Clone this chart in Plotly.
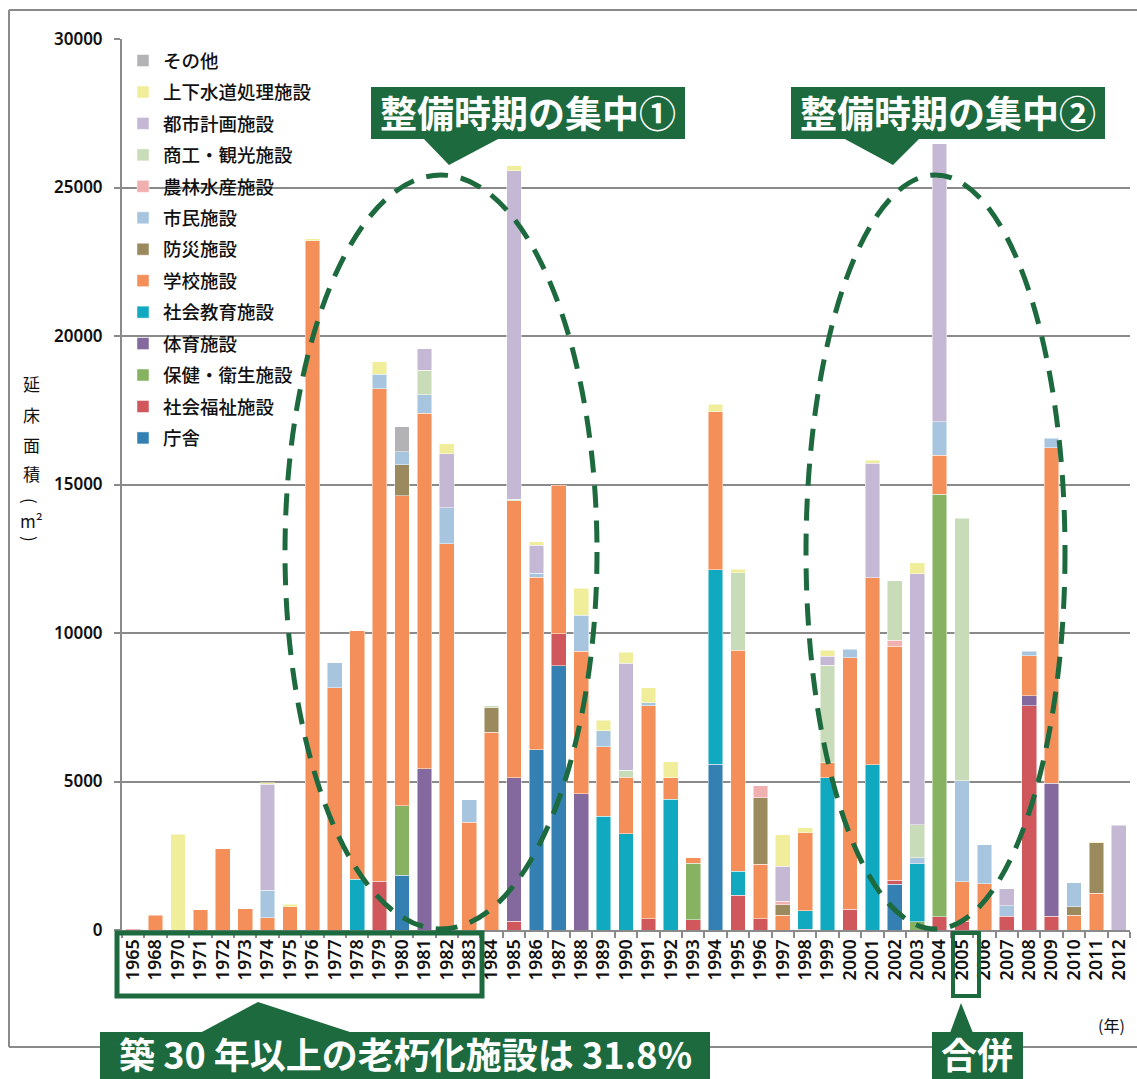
import plotly.graph_objects as go

# ---- categories (construction year) ----
years = ["1965", "1968"] + [str(y) for y in range(1970, 2013)]

# ---- floor area by facility type (m2), one value per year above ----
chosha = [0, 0, 0, 0, 0, 0, 0, 0, 0, 0,
          0, 0, 1840, 0, 0, 0, 0, 0, 6070, 8900,
          0, 0, 0, 0, 0, 0, 5580, 0, 0, 0,
          0, 0, 0, 0, 1540, 0, 0, 0, 0, 0,
          0, 0, 0, 0, 0]
fukushi = [0, 0, 0, 0, 0, 0, 0, 0, 0, 0,
           0, 1650, 0, 0, 0, 0, 0, 300, 0, 1080,
           0, 0, 0, 380, 0, 350, 0, 1170, 380, 0,
           30, 0, 700, 0, 140, 0, 450, 300, 0, 460,
           7550, 460, 0, 0, 0]
hoken = [0, 0, 0, 0, 0, 0, 0, 0, 0, 0,
         0, 0, 2350, 0, 0, 0, 0, 0, 0, 0,
         0, 0, 0, 0, 0, 1890, 0, 0, 0, 0,
         0, 0, 0, 0, 0, 280, 14220, 0, 0, 0,
         0, 0, 0, 0, 0]
taiiku = [0, 0, 0, 0, 0, 0, 0, 0, 0, 0,
          0, 0, 0, 5430, 0, 0, 0, 4830, 0, 0,
          4590, 0, 0, 0, 0, 0, 0, 0, 0, 0,
          0, 0, 0, 0, 0, 0, 0, 0, 0, 0,
          340, 4480, 0, 0, 0]
kyoiku = [0, 0, 0, 0, 0, 0, 0, 0, 0, 0,
          1710, 0, 0, 0, 0, 0, 0, 0, 0, 0,
          0, 3830, 3240, 0, 4400, 0, 6550, 810, 0, 0,
          620, 5130, 0, 5570, 0, 1950, 0, 0, 0, 0,
          0, 0, 0, 0, 0]
gakko = [0, 500, 0, 690, 2730, 710, 420, 790, 23200, 8160,
         8370, 16580, 10430, 11970, 13000, 3630, 6660, 9330, 5800, 5000,
         4800, 2340, 1910, 7170, 720, 200, 5320, 7440, 1840, 490,
         2630, 500, 8470, 6290, 7880, 0, 1320, 1330, 1560, 0,
         1340, 11300, 490, 1240, 0]
bousai = [0, 0, 0, 0, 0, 0, 0, 0, 0, 0,
          0, 0, 1040, 0, 0, 0, 830, 0, 0, 0,
          0, 0, 0, 0, 0, 0, 0, 0, 2230, 360,
          0, 0, 0, 0, 0, 0, 0, 0, 0, 0,
          0, 0, 290, 1700, 0]
shimin = [0, 0, 0, 0, 0, 0, 920, 0, 0, 840,
          0, 490, 450, 630, 1220, 750, 0, 0, 140, 0,
          1210, 540, 0, 100, 0, 0, 0, 0, 0, 0,
          0, 0, 290, 0, 0, 200, 1120, 3390, 1310, 360,
          160, 310, 810, 0, 0]
nourin = [40, 0, 0, 0, 0, 0, 0, 0, 0, 0,
          0, 0, 0, 0, 0, 0, 0, 0, 0, 0,
          0, 0, 0, 0, 0, 0, 0, 0, 400, 110,
          0, 0, 0, 0, 200, 0, 0, 0, 0, 0,
          0, 0, 0, 0, 0]
shoko = [0, 0, 0, 0, 0, 0, 0, 0, 0, 0,
         0, 0, 0, 810, 0, 0, 60, 50, 0, 0,
         0, 0, 230, 0, 0, 0, 0, 2610, 0, 0,
         0, 3290, 0, 0, 2000, 1120, 0, 8850, 0, 0,
         0, 0, 0, 0, 0]
toshi = [0, 0, 0, 0, 0, 0, 3570, 0, 0, 0,
         0, 0, 0, 730, 1810, 0, 0, 11060, 940, 0,
         0, 0, 3610, 0, 0, 0, 0, 0, 0, 1180,
         0, 290, 0, 3860, 0, 8450, 9370, 0, 0, 570,
         0, 0, 0, 0, 3530]
gesui = [0, 0, 3230, 0, 0, 0, 50, 80, 70, 0,
         0, 410, 0, 0, 340, 0, 0, 160, 120, 0,
         900, 360, 370, 510, 550, 0, 260, 110, 0, 1060,
         160, 210, 0, 100, 0, 360, 0, 0, 0, 0,
         0, 0, 0, 30, 0]
sonota = [0, 0, 0, 0, 0, 0, 0, 0, 0, 0,
          0, 0, 830, 0, 0, 0, 0, 0, 0, 0,
          0, 0, 0, 0, 0, 0, 0, 0, 0, 0,
          0, 0, 0, 0, 0, 0, 0, 0, 0, 0,
          0, 0, 0, 0, 0]

# stacking order, bottom to top
series = [
    ("庁舎", chosha, "#3480b3"),
    ("社会福祉施設", fukushi, "#d0575b"),
    ("保健・衛生施設", hoken, "#86b262"),
    ("体育施設", taiiku, "#83699d"),
    ("社会教育施設", kyoiku, "#10a9bf"),
    ("学校施設", gakko, "#f48f59"),
    ("防災施設", bousai, "#9a8a5e"),
    ("市民施設", shimin, "#a7c5de"),
    ("農林水産施設", nourin, "#f0b0b0"),
    ("商工・観光施設", shoko, "#c9dcb9"),
    ("都市計画施設", toshi, "#c5b8d5"),
    ("上下水道処理施設", gesui, "#f0ee9a"),
    ("その他", sonota, "#b3b3b5"),
]

# vertical axis title, one glyph per line
ytitle_chars = ["延", "床", "面", "積", "(", "m²", ")"]

W, H = 1137, 1079
L, R, T, B = 122, 7, 39, 149
PW, PH = W - L - R, H - T - B
GREEN = "#1c6a3e"
GRAY = "#8a8a8a"
JP = "Noto Sans CJK JP"


def px(x):
    return (x - L) / PW


def py(y):
    return (H - B - y) / PH


fig = go.Figure()
n = len(series)
for i, (name, vals, color) in enumerate(series):
    fig.add_trace(go.Bar(
        x=years,
        y=[v if v else None for v in vals],
        name=name,
        legendgroup=name,
        legendrank=n - i,
        marker=dict(color=color, line=dict(color="rgba(255,255,255,0.8)", width=0.6)),
    ))

shapes = []
# outer frame
for x0, y0, x1, y1 in [(9, 10, 9, 1047), (9, 10, W, 10), (9, 1047, W, 1047)]:
    shapes.append(dict(type="line", xref="paper", yref="paper",
                       x0=px(x0), y0=py(y0), x1=px(x1), y1=py(y1),
                       line=dict(color=GRAY, width=2), layer="above"))

# dashed ellipses marking the two construction peaks
for x0, x1 in [(285, 597), (806, 1065)]:
    shapes.append(dict(type="circle", xref="paper", yref="paper",
                       x0=px(x0), x1=px(x1), y0=py(929), y1=py(175),
                       line=dict(color=GREEN, width=5, dash="22px,13px"), layer="above"))


def rect(x0, y0, x1, y1, fill=True, width=0):
    d = dict(type="rect", xref="paper", yref="paper",
             x0=px(x0), y0=py(y0), x1=px(x1), y1=py(y1), layer="above")
    if fill:
        d.update(fillcolor=GREEN, line=dict(width=0))
    else:
        d.update(fillcolor="rgba(0,0,0,0)", line=dict(color=GREEN, width=width))
    return d


def tri(pts):
    path = "M " + " L ".join(f"{px(a):.5f},{py(b):.5f}" for a, b in pts) + " Z"
    return dict(type="path", xref="paper", yref="paper", path=path,
                fillcolor=GREEN, line=dict(width=0), layer="above")


# callout boxes at the top
shapes += [rect(371, 87, 685, 139), tri([(423, 138), (500, 138), (449, 165)])]
shapes += [rect(791, 87, 1105, 139), tri([(843, 138), (920, 138), (893, 165)])]
# brackets under the axis labels
shapes += [rect(117, 933, 482, 996, fill=False, width=5),
           tri([(200, 1033), (353, 1033), (258, 1002)]),
           rect(100, 1032, 710, 1079)]
shapes += [rect(953, 933, 979, 996, fill=False, width=4),
           tri([(950, 1033), (973, 1033), (961, 1003)]),
           rect(932, 1032, 1023, 1079)]

annotations = []


def label(x, y, text, size, color="white", weight="bold", family=JP, angle=0):
    annotations.append(dict(xref="paper", yref="paper", x=px(x), y=py(y),
                            text=text, showarrow=False, xanchor="center", yanchor="middle",
                            textangle=angle,
                            font=dict(family=family, size=size, color=color, weight=weight)))


label(528, 112, "整備時期の集中①", 37)
label(948, 112, "整備時期の集中②", 37)
label(405, 1053, "築 30 年以上の老朽化施設は 31.8%", 36)
label(977, 1053, "合併", 36)
label(1111, 1025, "(年)", 16, color="#111", weight="normal")

ty = [383, 414, 444, 473, 501, 520, 539]
for ch, yy in zip(ytitle_chars, ty):
    ang = 90 if ch in "()" else 0
    label(31, yy, ch, 17, color="#111", weight="normal", angle=ang)

fig.update_layout(
    width=W, height=H,
    margin=dict(l=L, r=R, t=T, b=B, autoexpand=False),
    barmode="stack",
    bargap=0.34,
    plot_bgcolor="white",
    paper_bgcolor="white",
    showlegend=True,
    legend=dict(x=px(123), y=py(42), xanchor="left", yanchor="top",
                traceorder="grouped", tracegroupgap=4.4,
                bgcolor="rgba(0,0,0,0)",
                font=dict(family=JP, size=18.5, color="#111", weight=500)),
    xaxis=dict(type="category", tickangle=-90, ticks="outside", tickson="boundaries",
               ticklen=6, tickcolor=GRAY, tickwidth=2,
               showline=True, linecolor=GRAY, linewidth=2,
               tickfont=dict(family="Noto Sans", size=18, color="#111", weight=600)),
    yaxis=dict(range=[0, 30000], dtick=5000, tickformat="d",
               showgrid=True, gridcolor=GRAY, gridwidth=2, zeroline=False,
               showline=True, linecolor=GRAY, linewidth=2,
               ticks="outside", ticklen=6, tickcolor=GRAY, tickwidth=2,
               ticklabelstandoff=8,
               tickfont=dict(family="Noto Sans", size=17, color="#111", weight=600)),
    shapes=shapes,
    annotations=annotations,
)

fig.write_html("out.html")
